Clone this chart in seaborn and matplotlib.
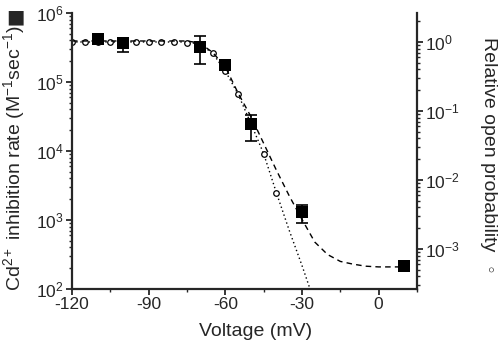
import numpy as np
import pandas as pd
import seaborn as sns
import matplotlib
matplotlib.use("Agg")
import matplotlib.pyplot as plt
from matplotlib.ticker import MultipleLocator, LogLocator

# Cd2+ inhibition rate (squares, left axis)
sq_voltage = [-110, -100, -70, -60, -50, -30, 10]
sq_rate = [4.2e5, 3.7e5, 3.2e5, 1.75e5, 2.45e4, 1.3e3, 215]
sq_low = [4.2e5, 2.7e5, 1.8e5, 1.75e5, 1.4e4, 9.1e2, 215]
sq_high = [4.2e5, 4.0e5, 4.65e5, 1.75e5, 3.3e4, 1.65e3, 215]

# relative open probability (circles, right axis)
po_voltage = [-120, -115, -110, -105, -100, -95, -90, -85, -80, -75, -70,
              -65, -60, -55, -50, -45, -40]
po_value = [1.0, 1.0, 1.0, 1.0, 1.0, 1.0, 1.0, 1.0, 1.0, 0.98, 0.9,
            0.69, 0.38, 0.175, 0.066, 0.024, 0.0065]

# fitted curves
rate_fit_v = [-120, -75, -70, -65, -60, -55, -50, -45, -40, -35, -30,
              -25, -20, -15, -10, -5, 0, 12]
rate_fit = [3.93e5, 3.93e5, 3.67e5, 2.69e5, 1.66e5, 6.9e4, 3.16e4, 1.29e4,
            5.25e3, 2.24e3, 1.02e3, 479, 316, 251, 229, 214, 209, 209]
po_fit_v = [-120, -75, -70, -65, -60, -55, -50, -45, -40, -35, -30, -25]
po_fit = [1.0, 1.0, 0.93, 0.69, 0.38, 0.175, 0.066, 0.024, 0.0065,
          1.86e-3, 5.75e-4, 1.66e-4]

sns.set_style("ticks")
plt.rcParams['font.family'] = ['Liberation Sans', 'DejaVu Sans']
plt.rcParams['mathtext.fontset'] = 'custom'
plt.rcParams['mathtext.rm'] = 'Liberation Sans'
plt.rcParams['mathtext.it'] = 'Liberation Sans:italic'
plt.rcParams['mathtext.bf'] = 'Liberation Sans:bold'
plt.rcParams['axes.unicode_minus'] = False

fig = plt.figure(figsize=(5, 3.56), dpi=100)
ax = fig.add_axes([0.144, 0.1882, 0.69, 0.7753])
ax2 = ax.twinx()
ax.set_zorder(ax2.get_zorder() + 1)
ax.patch.set_visible(False)

# right axis: open probability
sns.lineplot(x=po_fit_v, y=po_fit, ax=ax2, color='k', lw=1.0,
             linestyle=(0, (1, 2)), sort=False)
sns.scatterplot(x=po_voltage, y=po_value, ax=ax2, marker='o', s=16,
                facecolor='white', edgecolor='k', linewidth=0.9, zorder=3)
ax2.set_yscale('log')
ax2.set_ylim(2.63e-4, 2.63)

# left axis: inhibition rate
sns.lineplot(x=rate_fit_v, y=rate_fit, ax=ax, color='k', lw=1.0,
             linestyle=(0, (4, 3)), sort=False)
rate = np.array(sq_rate)
yerr = [rate - np.array(sq_low), np.array(sq_high) - rate]
ax.errorbar(sq_voltage, sq_rate, yerr=yerr, fmt='none', ecolor='k',
            elinewidth=1.2, capsize=4, capthick=1.2, zorder=4)
sns.scatterplot(x=sq_voltage, y=sq_rate, ax=ax, marker='s', s=64,
                color='k', edgecolor='k', linewidth=0, zorder=5)
ax.set_yscale('log')
ax.set_ylim(1e2, 1e6)
ax.set_xlim(-120, 15)
ax.xaxis.set_major_locator(MultipleLocator(30))
ax.xaxis.set_minor_locator(MultipleLocator(15))
ax.yaxis.set_major_locator(LogLocator(base=10))
ax.yaxis.set_minor_locator(LogLocator(base=10, subs=np.arange(2, 10)))
ax2.yaxis.set_major_locator(LogLocator(base=10))
ax2.yaxis.set_minor_locator(LogLocator(base=10, subs=np.arange(2, 10)))

for a in (ax, ax2):
    a.spines['top'].set_visible(False)
    for s in ('left', 'bottom', 'right'):
        a.spines[s].set_linewidth(1.6)
    a.tick_params(which='major', direction='out', length=4, width=1.3,
                  labelsize=12.5, pad=2)
    a.tick_params(which='minor', direction='out', length=2.5, width=1.0)
    a.set_xlabel('')
    a.set_ylabel('')
ax.spines['right'].set_visible(False)
ax2.spines['left'].set_visible(False)
ax2.spines['bottom'].set_visible(False)

fig.text(256 / 500, 1 - 331 / 356, 'Voltage (mV)', ha='center', va='center',
         fontsize=14)
fig.text(14 / 500, 1 - 158 / 356,
         'Cd$^{2+}$ inhibition rate (M$^{-1}$sec$^{-1}$)',
         rotation=90, ha='center', va='center', fontsize=14)
fig.text(15 / 500, 1 - 17 / 356, '\u25a0', ha='center', va='center',
         fontsize=14, family='DejaVu Sans')
fig.text(488 / 500, 1 - 144 / 356, 'Relative open probability',
         rotation=-90, ha='center', va='center', fontsize=14)
fig.text(486 / 500, 1 - 271 / 356, '\u25e6', rotation=-90, ha='center',
         va='center', fontsize=12, family='DejaVu Sans')

fig.savefig('out.png', dpi=100)
